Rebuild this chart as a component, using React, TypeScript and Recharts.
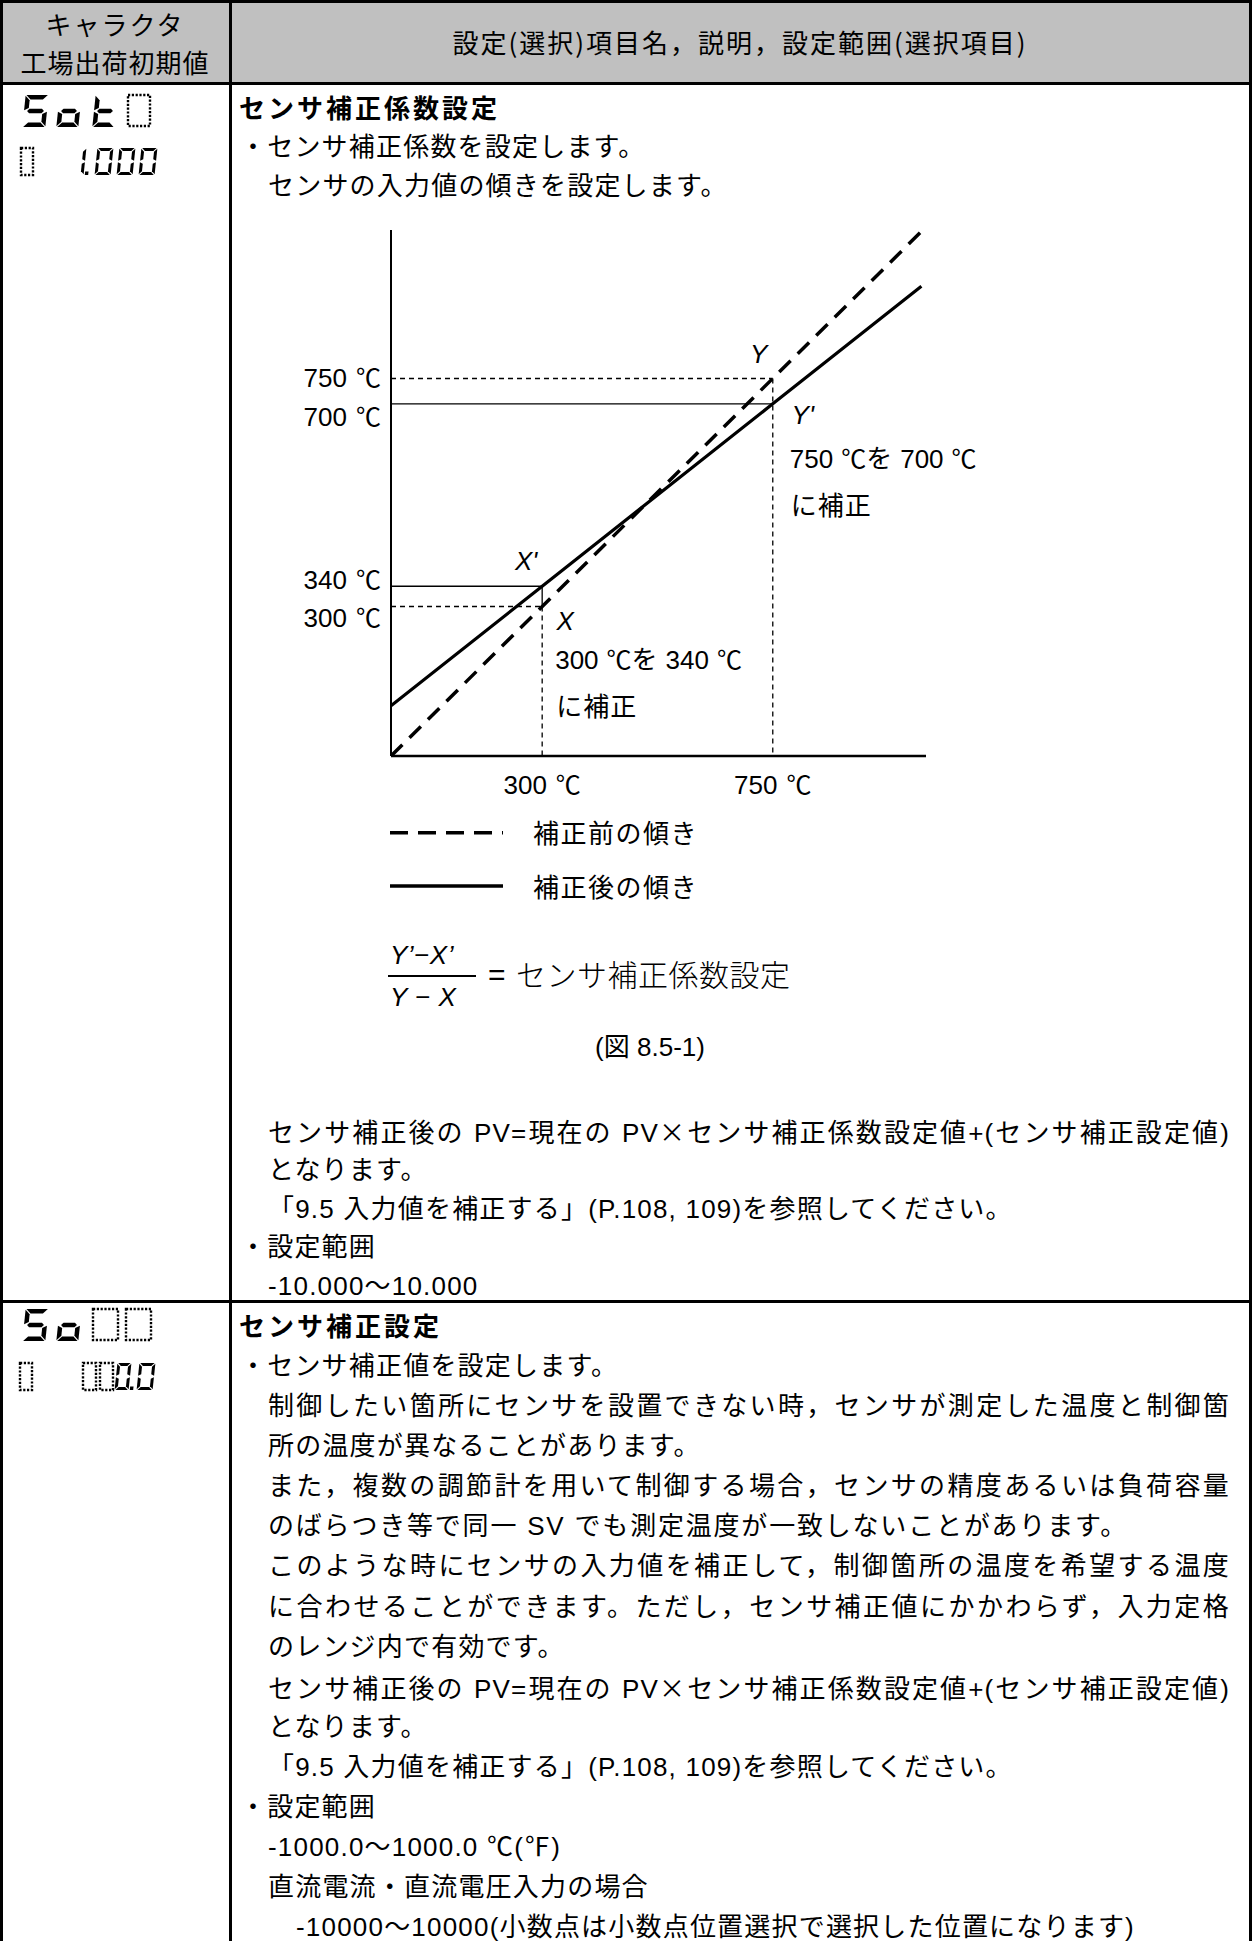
import React from 'react';
import { LineChart, Line, XAxis, YAxis, ReferenceLine, ReferenceDot } from 'recharts';

// ---------------- chart data ----------------
const xTicks = [300, 750];
const yTicks = [300, 340, 700, 750];
const xDomain: [number, number] = [5, 1049];
const yDomain: [number, number] = [5, 1043];
const beforeSlope = [
  { x: 5, y: 5 },
  { x: 1040, y: 1040 },
];
const afterSlope = [
  { x: 5, y: 104 },
  { x: 300, y: 340 },
  { x: 750, y: 700 },
  { x: 1040, y: 932 },
];
const pointX = { x: 300, y: 300 };
const pointXp = { x: 300, y: 340 };
const pointY = { x: 750, y: 750 };
const pointYp = { x: 750, y: 700 };
const legendLabels = ['補正前の傾き', '補正後の傾き'];
const unit = '℃';
// label nudges (px) so that the close y tick labels do not collide, as in the original figure
const yLabelNudge: Record<number, number> = { 750: 0, 700: 13, 340: -6, 300: 11 };

// ---------------- fonts ----------------
const LATIN = "'Liberation Sans', Arial, 'Noto Sans CJK JP', sans-serif";
const CJK = "'Noto Sans CJK JP', 'Liberation Sans', sans-serif";

// ---------------- text helpers ----------------
type TLProps = {
  x: number;
  y: number;
  w?: number;
  children: React.ReactNode;
  justify?: boolean;
  center?: boolean;
  bold?: boolean;
  size?: number;
  ls?: number;
  font?: string;
};
const TL = ({ x, y, w, children, justify, center, bold, size = 26, ls = 1.2, font = LATIN }: TLProps) => (
  <div
    style={{
      position: 'absolute',
      left: x,
      top: y - 20,
      width: w,
      height: 40,
      lineHeight: '40px',
      fontSize: size,
      letterSpacing: ls,
      fontFamily: font,
      fontWeight: bold ? 700 : 400,
      whiteSpace: justify ? 'normal' : 'nowrap',
      textAlign: justify ? 'justify' : center ? 'center' : 'left',
      textAlignLast: justify ? 'justify' : center ? 'center' : 'auto',
      color: '#000',
    } as React.CSSProperties}
  >
    {children}
  </div>
);

const X = ({ children }: { children: React.ReactNode }) => (
  <span style={{ fontFamily: CJK }}>{children}</span>
);

// ---------------- seven segment ----------------
const SEG: Record<string, string> = { '0': 'abcdef', '1': 'bc', S: 'acdfg', o: 'cdeg', k: 'defg' };
function segPolys(w: number, h: number, t: number, g: number) {
  const m = h / 2;
  return {
    a: [[g, 0], [w - g, 0], [w - g - t, t], [g + t, t]],
    d: [[g + t, h - t], [w - g - t, h - t], [w - g, h], [g, h]],
    g: [[g + t / 2, m], [g + t, m - t / 2], [w - g - t, m - t / 2], [w - g - t / 2, m], [w - g - t, m + t / 2], [g + t, m + t / 2]],
    f: [[0, g], [t, g + t], [t, m - g - t / 2], [0, m - g]],
    b: [[w, g], [w, m - g], [w - t, m - g - t / 2], [w - t, g + t]],
    e: [[0, m + g], [t, m + g + t / 2], [t, h - g - t], [0, h - g]],
    c: [[w, m + g], [w, h - g], [w - t, h - g - t], [w - t, m + g + t / 2]],
  } as Record<string, number[][]>;
}
const Seg = ({ x, y, w, h, t, ch, dot }: { x: number; y: number; w: number; h: number; t: number; ch: string; dot?: boolean }) => {
  const polys = segPolys(w, h, t, 0.8);
  const on = SEG[ch] || '';
  const sk = Math.tan((6 * Math.PI) / 180) * h;
  return (
    <g transform={`translate(${x + sk * 0.5},${y}) skewX(-6)`}>
      {on.split('').map((s) => (
        <polygon key={s} points={polys[s].map((p) => p.join(',')).join(' ')} fill="#000" />
      ))}
      {dot && <rect x={w + 1.2} y={h - 3.4} width={3.4} height={3.4} fill="#000" />}
    </g>
  );
};
const DBox = ({ x, y, w, h }: { x: number; y: number; w: number; h: number }) => (
  <rect x={x} y={y} width={w} height={h} fill="none" stroke="#000" strokeWidth={2.4} strokeDasharray="2.2 1.6" />
);

// ---------------- chart ticks / labels ----------------
const YTick = (props: any) => {
  const { x, y, payload } = props;
  const n = yLabelNudge[payload.value] || 0;
  return (
    <text x={x} y={y + n} dy={9} textAnchor="end" fill="#000" fontFamily={LATIN} fontSize={26}>
      {payload.value}
      <tspan dx={9} fontFamily={CJK} fontSize={25}>
        {unit}
      </tspan>
    </text>
  );
};
const XTick = (props: any) => {
  const { x, y, payload } = props;
  return (
    <text x={x} y={y} dy={38} textAnchor="middle" fill="#000" fontFamily={LATIN} fontSize={26}>
      {payload.value}
      <tspan dx={9} fontFamily={CJK} fontSize={25}>
        {unit}
      </tspan>
    </text>
  );
};
const letter = (txt: string, dx: number, dy: number) => (p: any) => (
  <text x={p.cx + dx} y={p.cy + dy + 9} textAnchor="middle" fill="#000" fontFamily={LATIN} fontStyle="italic" fontSize={26}>
    {txt}
  </text>
);
const correction = (from: number, to: number, dx: number, dy: number) => (p: any) => (
  <g>
    <text x={p.cx + dx} y={p.cy + dy + 9} fill="#000" fontFamily={LATIN} fontSize={26}>
      {from}
      <tspan dx={8} fontFamily={CJK} fontSize={25}>{unit}</tspan>
      <tspan fontFamily={CJK} fontSize={26}>を</tspan>
      <tspan dx={8}>{to}</tspan>
      <tspan dx={8} fontFamily={CJK} fontSize={25}>{unit}</tspan>
    </text>
    <text x={p.cx + dx + 1} y={p.cy + dy + 47 + 9} fill="#000" fontFamily={CJK} fontSize={26} letterSpacing={1}>
      に補正
    </text>
  </g>
);

const thin = { stroke: '#000', strokeWidth: 1.3 };
const dash = '5 4';

const Chart = () => (
  <div style={{ position: 'absolute', left: 230, top: 200, width: 800, height: 620 }}>
    <LineChart width={800} height={620} margin={{ top: 30, right: 104, left: 0, bottom: 0 }}>
      <XAxis
        type="number"
        dataKey="x"
        domain={xDomain}
        allowDataOverflow
        ticks={xTicks}
        interval={0}
        tick={<XTick />}
        tickLine={false}
        tickSize={0}
        tickMargin={0}
        height={64}
        axisLine={{ stroke: '#000', strokeWidth: 2.5 }}
      />
      <YAxis
        type="number"
        dataKey="y"
        domain={yDomain}
        allowDataOverflow
        ticks={yTicks}
        interval={0}
        tick={<YTick />}
        tickLine={false}
        tickSize={0}
        tickMargin={10}
        width={161}
        axisLine={{ stroke: '#000', strokeWidth: 2 }}
      />
      <ReferenceLine segment={[{ x: xDomain[0], y: pointY.y }, { x: pointY.x, y: pointY.y }]} {...thin} strokeDasharray={dash} />
      <ReferenceLine segment={[{ x: pointY.x, y: pointY.y }, { x: pointY.x, y: yDomain[0] }]} {...thin} strokeDasharray={dash} />
      <ReferenceLine segment={[{ x: xDomain[0], y: pointYp.y }, { x: pointYp.x, y: pointYp.y }]} {...thin} />
      <ReferenceLine segment={[{ x: xDomain[0], y: pointX.y }, { x: pointX.x, y: pointX.y }]} {...thin} strokeDasharray={dash} />
      <ReferenceLine segment={[{ x: pointX.x, y: pointX.y }, { x: pointX.x, y: yDomain[0] }]} {...thin} strokeDasharray={dash} />
      <ReferenceLine segment={[{ x: xDomain[0], y: pointXp.y }, { x: pointXp.x, y: pointXp.y }]} {...thin} />
      <ReferenceLine segment={[{ x: pointX.x, y: pointX.y }, { x: pointXp.x, y: pointXp.y }]} {...thin} />
      <Line
        data={beforeSlope}
        dataKey="y"
        type="linear"
        stroke="#000"
        strokeWidth={3.5}
        strokeDasharray="16 10"
        dot={false}
        activeDot={false}
        isAnimationActive={false}
      />
      <Line
        data={afterSlope}
        dataKey="y"
        type="linear"
        stroke="#000"
        strokeWidth={3.2}
        dot={false}
        activeDot={false}
        isAnimationActive={false}
      />
      <ReferenceDot x={pointY.x} y={pointY.y} r={0} shape={letter('Y', -14, -24.5)} />
      <ReferenceDot x={pointYp.x} y={pointYp.y} r={0} shape={letter("Y'", 30, 11)} />
      <ReferenceDot x={pointXp.x} y={pointXp.y} r={0} shape={letter("X'", -16, -25)} />
      <ReferenceDot x={pointX.x} y={pointX.y} r={0} shape={letter('X', 23, 14.5)} />
      <ReferenceDot x={pointYp.x} y={pointYp.y} r={0} shape={correction(pointY.y, pointYp.y, 17, 55)} />
      <ReferenceDot x={pointX.x} y={pointX.y} r={0} shape={correction(pointX.y, pointXp.y, 13, 53.5)} />
    </LineChart>
  </div>
);

export default function App() {
  const bw = '#000';
  return (
    <div
      style={{
        position: 'absolute',
        left: 0,
        top: 0,
        width: 1252,
        height: 1941,
        background: '#fff',
        overflow: 'hidden',
        fontFamily: LATIN,
        color: '#000',
      }}
    >
      {/* header background */}
      <div style={{ position: 'absolute', left: 0, top: 0, width: 1252, height: 83, background: '#c0c0c0' }} />
      {/* borders */}
      <div style={{ position: 'absolute', left: 0, top: 0, width: 1252, height: 3, background: bw }} />
      <div style={{ position: 'absolute', left: 0, top: 0, width: 3, height: 1941, background: bw }} />
      <div style={{ position: 'absolute', left: 1249, top: 0, width: 3, height: 1941, background: bw }} />
      <div style={{ position: 'absolute', left: 229, top: 0, width: 2.5, height: 1941, background: bw }} />
      <div style={{ position: 'absolute', left: 0, top: 81.5, width: 1252, height: 3, background: bw }} />
      <div style={{ position: 'absolute', left: 0, top: 1299.5, width: 1252, height: 3, background: bw }} />

      {/* header text */}
      <TL x={0} y={24} w={230} center ls={2} font={CJK}>キャラクタ</TL>
      <TL x={0} y={62} w={230} center ls={1} font={CJK}>工場出荷初期値</TL>
      <TL x={231} y={42} w={1018} center ls={2} font={CJK}>設定(選択)項目名，説明，設定範囲(選択項目)</TL>

      {/* seven segment characters */}
      <svg style={{ position: 'absolute', left: 0, top: 0 }} width={229} height={1941}>
        <Seg x={24} y={95} w={23} h={32} t={4.5} ch="S" />
        <Seg x={58} y={95} w={22} h={32} t={4.5} ch="o" />
        <Seg x={94} y={95} w={22} h={32} t={4.5} ch="k" />
        <DBox x={128} y={95} w={22} h={31} />
        <DBox x={21} y={148} w={12} h={27} />
        <Seg x={76} y={148} w={9} h={27} t={3} ch="1" dot />
        <Seg x={96} y={148} w={16} h={27} t={3} ch="0" />
        <Seg x={118} y={148} w={16} h={27} t={3} ch="0" />
        <Seg x={140} y={148} w={16} h={27} t={3} ch="0" />

        <Seg x={24} y={1309} w={23} h={32} t={4.5} ch="S" />
        <Seg x={58} y={1309} w={22} h={32} t={4.5} ch="o" />
        <DBox x={93} y={1309} w={25} h={31} />
        <DBox x={126} y={1309} w={25} h={31} />
        <DBox x={20} y={1363} w={12} h={27} />
        <DBox x={83} y={1363} w={13} h={27} />
        <DBox x={100} y={1363} w={13} h={27} />
        <Seg x={116} y={1363} w={14} h={27} t={3} ch="0" dot />
        <Seg x={138} y={1363} w={16} h={27} t={3} ch="0" />
      </svg>

      {/* row 1 */}
      <TL x={239} y={107} bold ls={3} font={CJK}>センサ補正係数設定</TL>
      <TL x={240} y={147}>・センサ補正係数を設定します。</TL>
      <TL x={268} y={186}>センサの入力値の傾きを設定します。</TL>

      <Chart />

      {/* legend */}
      <svg style={{ position: 'absolute', left: 390, top: 820 }} width={120} height={80}>
        <line x1={0} y1={12.7} x2={113} y2={12.7} stroke="#000" strokeWidth={3.5} strokeDasharray="18 10" />
        <line x1={0} y1={66} x2={113} y2={66} stroke="#000" strokeWidth={3.5} />
      </svg>
      <TL x={533} y={832} ls={1.5} font={CJK}>{legendLabels[0]}</TL>
      <TL x={533} y={886} ls={1.5} font={CJK}>{legendLabels[1]}</TL>

      {/* formula */}
      <TL x={390} y={955} ls={0.5}><i>Y’−X’</i></TL>
      <div style={{ position: 'absolute', left: 388, top: 975, width: 88, height: 1.6, background: '#000' }} />
      <TL x={390} y={997} ls={0.5}><i>Y − X</i></TL>
      <TL x={488} y={975} size={30} ls={0}>=</TL>
      <TL x={516} y={973} size={30} ls={0.5} font={CJK}><span style={{ fontWeight: 300 }}>センサ補正係数設定</span></TL>
      <TL x={560} y={1045} w={180} center ls={0}>(<X>図</X> 8.5-1)</TL>

      <TL x={268} y={1131} w={962} justify>センサ補正後の PV=現在の PV<X>×</X>センサ補正係数設定値+(センサ補正設定値)</TL>
      <TL x={268} y={1170}>となります。</TL>
      <TL x={268} y={1209}>「9.5 入力値を補正する」(P.108, 109)を参照してください。</TL>
      <TL x={240} y={1247}>・設定範囲</TL>
      <TL x={268} y={1286}>-10.000～10.000</TL>

      {/* row 2 */}
      <TL x={239} y={1325} bold ls={3} font={CJK}>センサ補正設定</TL>
      <TL x={240} y={1366}>・センサ補正値を設定します。</TL>
      <TL x={268} y={1406} w={962} justify>制御したい箇所にセンサを設置できない時，センサが測定した温度と制御箇</TL>
      <TL x={268} y={1446}>所の温度が異なることがあります。</TL>
      <TL x={268} y={1486} w={962} justify>また，複数の調節計を用いて制御する場合，センサの精度あるいは負荷容量</TL>
      <TL x={268} y={1526} ls={1.8}>のばらつき等で同一 SV でも測定温度が一致しないことがあります。</TL>
      <TL x={268} y={1566} w={962} justify>このような時にセンサの入力値を補正して，制御箇所の温度を希望する温度</TL>
      <TL x={268} y={1607} w={962} justify>に合わせることができます。ただし，センサ補正値にかかわらず，入力定格</TL>
      <TL x={268} y={1647}>のレンジ内で有効です。</TL>
      <TL x={268} y={1687} w={962} justify>センサ補正後の PV=現在の PV<X>×</X>センサ補正係数設定値+(センサ補正設定値)</TL>
      <TL x={268} y={1727}>となります。</TL>
      <TL x={268} y={1767}>「9.5 入力値を補正する」(P.108, 109)を参照してください。</TL>
      <TL x={240} y={1807}>・設定範囲</TL>
      <TL x={268} y={1847}>-1000.0～1000.0 ℃(℉)</TL>
      <TL x={268} y={1887}>直流電流・直流電圧入力の場合</TL>
      <TL x={296} y={1927}>-10000～10000(小数点は小数点位置選択で選択した位置になります)</TL>
    </div>
  );
}
